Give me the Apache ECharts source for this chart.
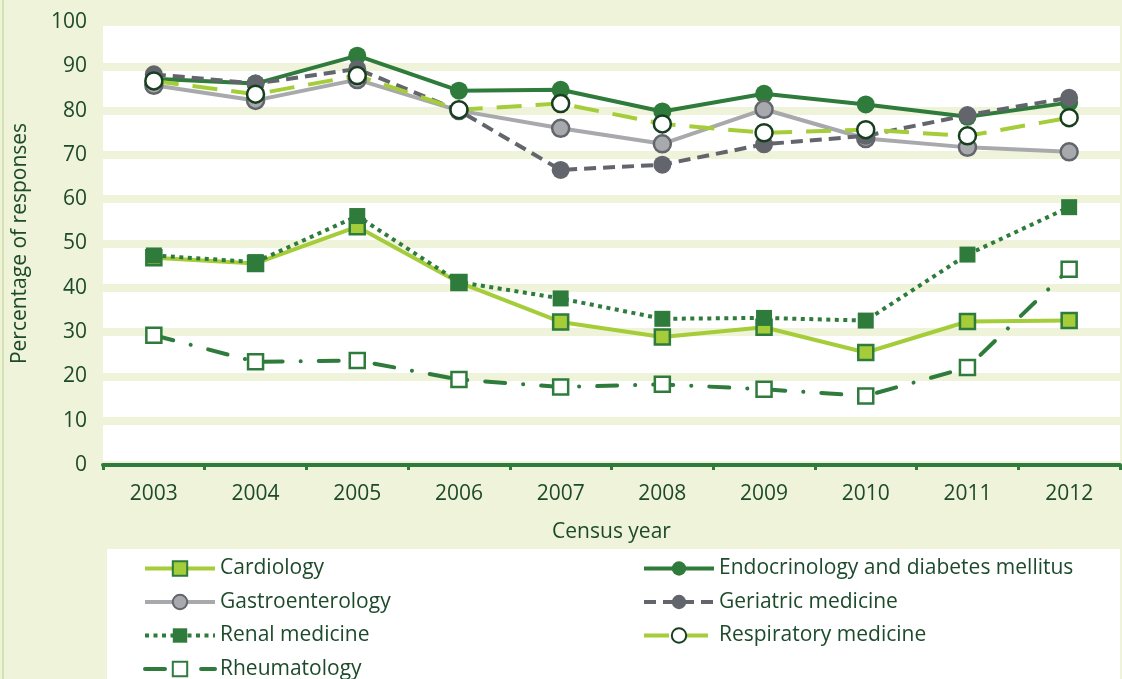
<!DOCTYPE html>
<html>
<head>
<meta charset="utf-8">
<script src="https://cdn.jsdelivr.net/npm/echarts@6/dist/echarts.min.js"></script>
<style>
  html, body { margin: 0; padding: 0; background: #eff3d9; }
  #chart { width: 1122px; height: 679px; }
</style>
</head>
<body>
<div id="chart"></div>
<script>
// data
var years = ["2003", "2004", "2005", "2006", "2007", "2008", "2009", "2010", "2011", "2012"];
var cardiology = [46.8, 45.5, 53.8, 41.2, 32.3, 28.9, 31.1, 25.4, 32.4, 32.6];
var endocrinology = [87.2, 86.1, 92.4, 84.5, 84.7, 79.8, 83.8, 81.4, 78.6, 81.8];
var gastroenterology = [85.7, 82.3, 87.0, 80.0, 76.0, 72.5, 80.3, 73.7, 71.7, 70.7];
var geriatric = [88.2, 86.1, 89.4, 80.0, 66.6, 67.8, 72.4, 74.3, 79.0, 82.9];
var renal = [47.3, 45.8, 56.2, 41.3, 37.6, 33.0, 33.2, 32.6, 47.5, 58.2];
var respiratory = [86.7, 83.7, 87.9, 80.2, 81.6, 77.0, 75.0, 75.7, 74.3, 78.4];
var rheumatology = [29.3, 23.3, 23.6, 19.3, 17.6, 18.2, 17.1, 15.6, 22.0, 44.2];

var darkGreen = "#2e7b3c";
var lightGreen = "#a5cd39";
var lightGrey = "#a7a9ac";
var darkGrey = "#62656c";
var textGreen = "#1d4a2a";
var cream = "#eff3d9";
var font = "Open Sans";
var fs = 21;

var mycharts = echarts.init(document.getElementById("chart"));

// legend look shared by both columns
var legendBase = {
  orient: "vertical", top: 558, height: 140, padding: 0,
  itemWidth: 70, itemHeight: 18, itemGap: 12.5,
  lineStyle: { width: 4 },
  textStyle: { fontSize: fs, color: textGreen, fontFamily: font, lineHeight: 21 }
};

var option = {
  backgroundColor: cream,
  textStyle: { fontFamily: font, color: textGreen },
  graphic: [
    { type: "rect", left: 107, top: 549, shape: { width: 1013, height: 130 }, style: { fill: "#fff" }, z: -10 },
    { type: "rect", left: 2, top: 0, shape: { width: 2, height: 679 }, style: { fill: "#d3e2b0" }, z: -10 }
  ],
  grid: {
    left: 103, right: 2, top: 22, bottom: 214,
    show: true, backgroundColor: "#fff", borderWidth: 0
  },
  xAxis: {
    type: "category",
    data: years,
    boundaryGap: true,
    name: "Census year",
    nameLocation: "middle",
    nameGap: 57,
    nameTextStyle: { fontSize: fs, color: textGreen, fontFamily: font },
    axisLine: { lineStyle: { color: darkGreen, width: 4 } },
    axisTick: { show: true, length: 5, lineStyle: { color: darkGreen, width: 3 } },
    axisLabel: { fontSize: fs, color: textGreen, margin: 19, fontFamily: font }
  },
  yAxis: {
    type: "value",
    min: 0, max: 100, interval: 10,
    name: "Percentage of responses",
    nameLocation: "middle",
    nameGap: 72,
    nameTextStyle: { fontSize: fs, color: textGreen, fontFamily: font },
    axisLine: { show: false },
    axisTick: { show: false },
    axisLabel: { fontSize: fs, color: textGreen, margin: 16, fontFamily: font },
    splitLine: { lineStyle: { color: cream, width: 8 } }
  },
  legend: [
    Object.assign({}, legendBase, {
      left: 143,
      data: ["Cardiology", "Gastroenterology", "Renal medicine", "Rheumatology"]
    }),
    Object.assign({}, legendBase, {
      left: 642,
      data: ["Endocrinology and diabetes mellitus", "Geriatric medicine", "Respiratory medicine"]
    })
  ],
  series: [
    {
      name: "Cardiology", type: "line", data: cardiology,
      symbol: "rect", symbolSize: 15,
      lineStyle: { color: lightGreen, width: 4 },
      itemStyle: { color: lightGreen, borderColor: darkGreen, borderWidth: 2.5 }
    },
    {
      name: "Endocrinology and diabetes mellitus", type: "line", data: endocrinology,
      symbol: "circle", symbolSize: 18,
      lineStyle: { color: darkGreen, width: 4 },
      itemStyle: { color: darkGreen, borderColor: darkGreen, borderWidth: 0 }
    },
    {
      name: "Gastroenterology", type: "line", data: gastroenterology,
      symbol: "circle", symbolSize: 17,
      lineStyle: { color: lightGrey, width: 4 },
      itemStyle: { color: lightGrey, borderColor: darkGrey, borderWidth: 2.5 }
    },
    {
      name: "Geriatric medicine", type: "line", data: geriatric,
      symbol: "circle", symbolSize: 18,
      lineStyle: { color: darkGrey, width: 4, type: [12, 7] },
      itemStyle: { color: darkGrey, borderColor: darkGrey, borderWidth: 0 }
    },
    {
      name: "Renal medicine", type: "line", data: renal,
      symbol: "rect", symbolSize: 16,
      lineStyle: { color: darkGreen, width: 4, type: [4, 4.5] },
      itemStyle: { color: darkGreen, borderColor: darkGreen, borderWidth: 0 }
    },
    {
      name: "Respiratory medicine", type: "line", data: respiratory,
      symbol: "circle", symbolSize: 17,
      lineStyle: { color: lightGreen, width: 4, type: [25, 14] },
      itemStyle: { color: "#fff", borderColor: "#173f1f", borderWidth: 2.5 }
    },
    {
      name: "Rheumatology", type: "line", data: rheumatology,
      symbol: "rect", symbolSize: 15,
      lineStyle: { color: darkGreen, width: 4, type: [20, 18, 0.1, 18], cap: "round" },
      itemStyle: { color: "#fff", borderColor: darkGreen, borderWidth: 2.5 }
    }
  ]
};
mycharts.setOption(option);
</script>
</body>
</html>
